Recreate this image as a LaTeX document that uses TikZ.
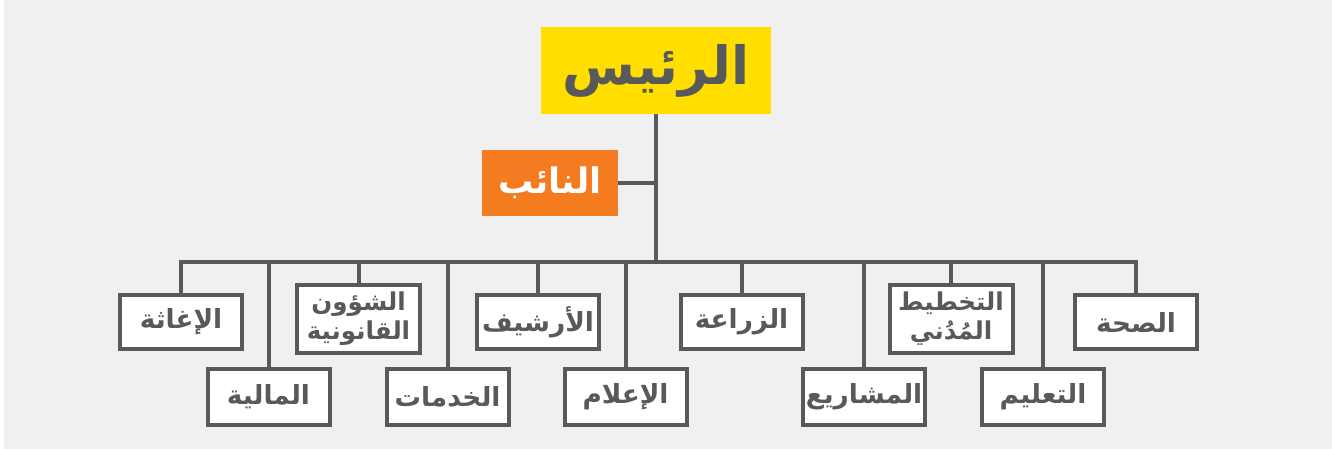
\documentclass[tikz,border=0pt]{standalone}
\usepackage{fontspec}
\newfontfamily\arabicfont[Script=Arabic]{DejaVu Sans}
\TeXXeTstate=1
\newcommand{\artxt}[1]{\beginR #1\endR}
\definecolor{orgline}{HTML}{58595B}
\definecolor{orgbg}{HTML}{F0F0F0}
\definecolor{chiefyellow}{HTML}{FFDE00}
\definecolor{deputyorange}{HTML}{F47B20}
\tikzset{
  dept/.style={draw=orgline, line width=4*0.02cm, fill=white, inner sep=0pt,
    minimum width=122*0.02cm, minimum height=54*0.02cm, align=center,
    text=orgline, font=\arabicfont\bfseries\fontsize{15}{15}\selectfont},
  deptlow/.style={dept, minimum height=56*0.02cm},
  depttall/.style={dept, minimum width=123*0.02cm, minimum height=68*0.02cm,
    font=\arabicfont\bfseries\fontsize{14}{16.5}\selectfont},
  link/.style={draw=orgline, line width=4*0.02cm}
}
\begin{document}
\begin{tikzpicture}[x=0.02cm,y=-0.02cm]
  \fill[white] (0,0) rectangle (1332,449);
  \fill[orgbg] (4,0) rectangle (1332,449);
  \useasboundingbox (0,0) rectangle (1332,449);

  \node[fill=chiefyellow, minimum width=230*0.02cm, minimum height=87*0.02cm, inner sep=0pt,
    text=orgline, font=\arabicfont\bfseries\fontsize{30}{30}\selectfont] (chief) at (656,70.5) {\artxt{الرئيس}};
  \node[fill=deputyorange, minimum width=136*0.02cm, minimum height=66*0.02cm, inner sep=0pt,
    text=white, font=\arabicfont\bfseries\fontsize{20}{20}\selectfont] (deputy) at (550,183) {\artxt{النائب}};

  \coordinate (bus) at (656,262);
  \coordinate (deputyjoin) at (656,183);

  % first row
  \node[dept] (relief) at (181,322) {\artxt{الإغاثة}};
  \node[depttall] (legal) at (358.5,319) {\artxt{الشؤون}\\\artxt{القانونية}};
  \node[dept] (archive) at (538,322) {\artxt{الأرشيف}};
  \node[dept] (agri) at (741.5,322) {\artxt{الزراعة}};
  \node[depttall] (planning) at (951,319) {\artxt{التخطيط}\\\artxt{المُدُني}};
  \node[dept] (health) at (1136,322) {\artxt{الصحة}};

  % second row
  \node[deptlow] (finance) at (268.5,397) {\artxt{المالية}};
  \node[deptlow] (services) at (447.5,397) {\artxt{الخدمات}};
  \node[deptlow] (media) at (625.5,397) {\artxt{الإعلام}};
  \node[deptlow] (projects) at (864,397) {\artxt{المشاريع}};
  \node[deptlow] (education) at (1043,397) {\artxt{التعليم}};

  \draw[link] (chief.south) -- (bus);
  \draw[link] (deputy.east) -- (deputyjoin);
  \foreach \dep in {relief,legal,archive,agri,planning,health,finance,services,media,projects,education}
    \draw[link] (\dep.north) |- (bus);
\end{tikzpicture}
\end{document}
